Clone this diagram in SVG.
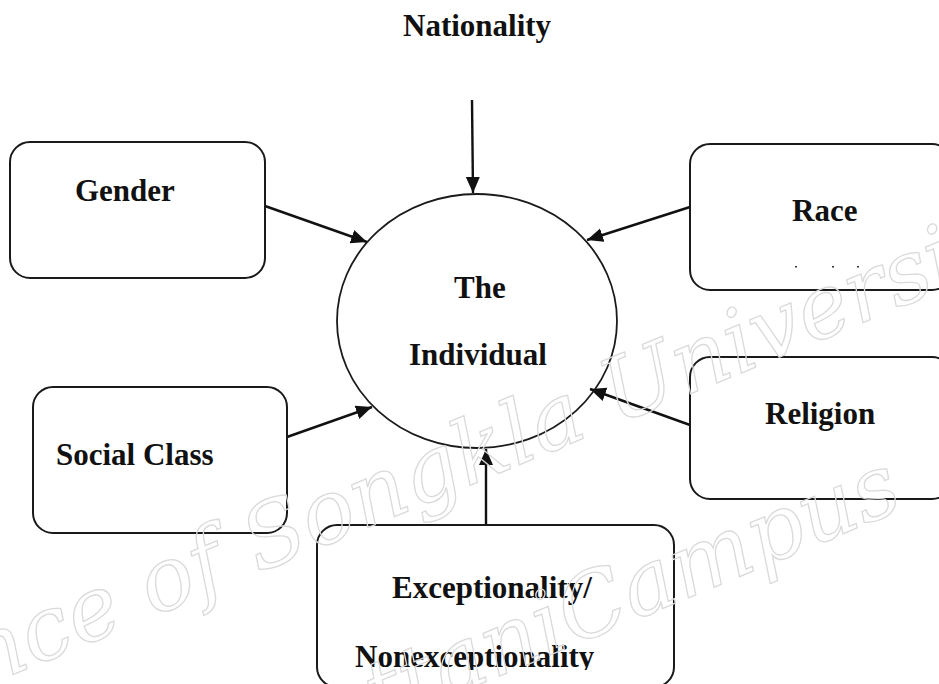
<svg xmlns="http://www.w3.org/2000/svg" width="939" height="684" viewBox="0 0 939 684">
<style>
.box{fill:none;stroke:#1a1a1a;stroke-width:2}
.lbl{font-family:"Liberation Serif","Times New Roman",serif;font-weight:bold;font-size:31px;fill:#111}
.con{stroke:#111;stroke-width:2.4;fill:none;marker-end:url(#ah)}
.wm{font-family:"DejaVu Serif",serif;font-style:italic;font-size:88px;fill:none;stroke:#dadada;stroke-width:1.3}
</style>
<defs>
<marker id="ah" markerUnits="userSpaceOnUse" markerWidth="18" markerHeight="16" refX="16" refY="7" orient="auto">
<path d="M0,0 L16,7 L0,14 z" fill="#111"/>
</marker>
<clipPath id="clipB"><rect x="0" y="0" width="939" height="670"/></clipPath>
</defs>
<rect width="939" height="684" fill="#fff"/>

<g id="connectors">
<line class="con" x1="472" y1="100" x2="473" y2="193"/>
<line class="con" x1="265" y1="206" x2="367" y2="242"/>
<line class="con" x1="690" y1="207" x2="587" y2="240"/>
<line class="con" x1="287" y1="437" x2="372" y2="407"/>
<line class="con" x1="690" y1="425" x2="590" y2="389"/>
<line class="con" x1="486" y1="525" x2="486" y2="449"/>
</g>

<g id="nationality">
<text class="lbl" x="403" y="36">Nationality</text>
</g>
<g id="individual">
<ellipse cx="477" cy="321" rx="140" ry="127" fill="none" stroke="#1a1a1a" stroke-width="1.8"/>
<text class="lbl" x="454" y="298">The</text>
<text class="lbl" x="409" y="365">Individual</text>
</g>
<g id="gender">
<rect class="box" x="10" y="142" width="255" height="136" rx="20"/>
<text class="lbl" x="75" y="201">Gender</text>
</g>
<g id="race">
<rect class="box" x="690" y="144" width="262" height="146" rx="20"/>
<text class="lbl" x="792" y="221">Race</text>
<rect x="795" y="266" width="2" height="1.5" fill="#333"/>
<rect x="832" y="266" width="2" height="1.5" fill="#333"/>
<rect x="857" y="266" width="2" height="1.5" fill="#333"/>
</g>
<g id="social-class">
<rect class="box" x="33" y="387" width="254" height="146" rx="20"/>
<text class="lbl" x="56" y="465">Social Class</text>
</g>
<g id="religion">
<rect class="box" x="690" y="357" width="262" height="142" rx="20"/>
<text class="lbl" x="765" y="424">Religion</text>
</g>
<g id="exceptionality">
<rect class="box" x="317" y="525" width="357" height="162" rx="20"/>
<text class="lbl" x="392" y="598">Exceptionality/</text>
<text class="lbl" x="355" y="667" clip-path="url(#clipB)">Nonexceptionality</text>
</g>

<g id="watermark">
<g transform="translate(0,680) rotate(-22.5)">
<text class="wm" x="-150" y="0">Prince of Songkla University</text>
</g>
<g transform="translate(572,646) rotate(-22.5)">
<text class="wm" x="0" y="0" font-size="80" text-anchor="end">Pattani </text>
<text class="wm" x="0" y="0" font-size="80">Campus</text>
</g>
</g>
</svg>
